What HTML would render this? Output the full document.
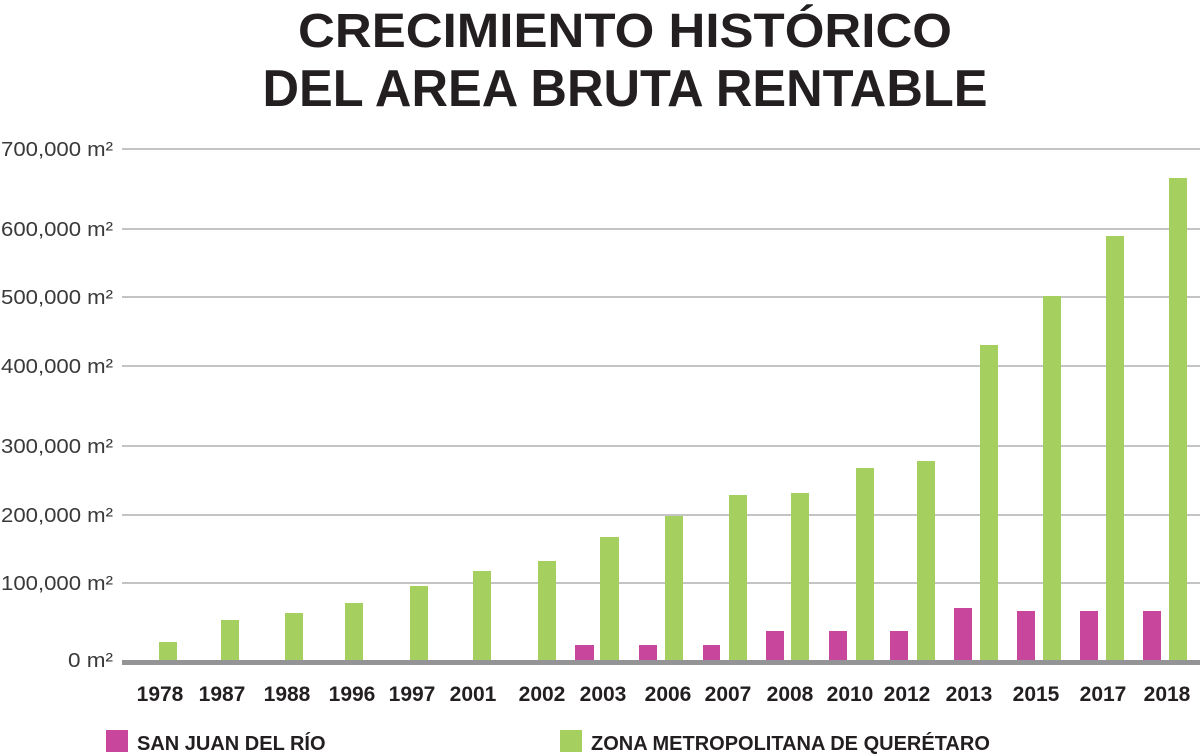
<!DOCTYPE html>
<html><head><meta charset="utf-8"><style>
html,body{margin:0;padding:0;background:#fff;}
svg{display:block;}
</style></head><body>
<svg width="1200" height="754" viewBox="0 0 1200 754" xmlns="http://www.w3.org/2000/svg" font-family="Liberation Sans, sans-serif">
<rect width="1200" height="754" fill="#fff"/>
<text x="625" y="47" font-size="48" font-weight="bold" fill="#231f20" text-anchor="middle" textLength="654" lengthAdjust="spacingAndGlyphs">CRECIMIENTO HISTÓRICO</text>
<text x="625" y="106" font-size="52" font-weight="bold" fill="#231f20" text-anchor="middle" textLength="725" lengthAdjust="spacingAndGlyphs">DEL AREA BRUTA RENTABLE</text>
<g stroke="#c4c4c6" stroke-width="2">
<line x1="122" y1="149" x2="1200" y2="149"/>
<line x1="122" y1="229" x2="1200" y2="229"/>
<line x1="122" y1="297" x2="1200" y2="297"/>
<line x1="122" y1="366" x2="1200" y2="366"/>
<line x1="122" y1="446" x2="1200" y2="446"/>
<line x1="122" y1="515" x2="1200" y2="515"/>
<line x1="122" y1="583" x2="1200" y2="583"/>
</g>
<g font-size="20" fill="#3a3a3a" text-anchor="end">
<text x="113" y="156" textLength="112" lengthAdjust="spacingAndGlyphs">700,000 m²</text>
<text x="113" y="236" textLength="112" lengthAdjust="spacingAndGlyphs">600,000 m²</text>
<text x="113" y="304" textLength="112" lengthAdjust="spacingAndGlyphs">500,000 m²</text>
<text x="113" y="373" textLength="112" lengthAdjust="spacingAndGlyphs">400,000 m²</text>
<text x="113" y="453" textLength="112" lengthAdjust="spacingAndGlyphs">300,000 m²</text>
<text x="113" y="522" textLength="112" lengthAdjust="spacingAndGlyphs">200,000 m²</text>
<text x="113" y="590" textLength="112" lengthAdjust="spacingAndGlyphs">100,000 m²</text>
<text x="113" y="667" textLength="45" lengthAdjust="spacingAndGlyphs">0 m²</text>
</g>
<g fill="#a5cf5f">
<rect x="159" y="642" width="18" height="20"/>
<rect x="221" y="620" width="18" height="42"/>
<rect x="285" y="613" width="18" height="49"/>
<rect x="345" y="603" width="18" height="59"/>
<rect x="410" y="586" width="18" height="76"/>
<rect x="473" y="571" width="18" height="91"/>
<rect x="538" y="561" width="18" height="101"/>
<rect x="600" y="537" width="19" height="125"/>
<rect x="665" y="516" width="18" height="146"/>
<rect x="729" y="495" width="18" height="167"/>
<rect x="791" y="493" width="18" height="169"/>
<rect x="856" y="468" width="18" height="194"/>
<rect x="917" y="461" width="18" height="201"/>
<rect x="980" y="345" width="18" height="317"/>
<rect x="1043" y="296" width="18" height="366"/>
<rect x="1106" y="236" width="18" height="426"/>
<rect x="1169" y="178" width="18" height="484"/>
</g>
<g fill="#c8469b">
<rect x="575" y="645" width="19" height="17"/>
<rect x="639" y="645" width="18" height="17"/>
<rect x="703" y="645" width="17" height="17"/>
<rect x="766" y="631" width="18" height="31"/>
<rect x="829" y="631" width="18" height="31"/>
<rect x="890" y="631" width="18" height="31"/>
<rect x="954" y="608" width="18" height="54"/>
<rect x="1017" y="611" width="18" height="51"/>
<rect x="1080" y="611" width="18" height="51"/>
<rect x="1143" y="611" width="18" height="51"/>
</g>
<rect x="122" y="660" width="1078" height="5" fill="#949497"/>
<g font-size="21" font-weight="bold" fill="#231f20" text-anchor="middle">
<text x="160" y="701">1978</text>
<text x="222" y="701">1987</text>
<text x="287" y="701">1988</text>
<text x="352" y="701">1996</text>
<text x="412" y="701">1997</text>
<text x="473" y="701">2001</text>
<text x="542" y="701">2002</text>
<text x="603" y="701">2003</text>
<text x="668" y="701">2006</text>
<text x="728" y="701">2007</text>
<text x="790" y="701">2008</text>
<text x="850" y="701">2010</text>
<text x="907" y="701">2012</text>
<text x="969" y="701">2013</text>
<text x="1036" y="701">2015</text>
<text x="1103" y="701">2017</text>
<text x="1167" y="701">2018</text>
</g>
<rect x="106" y="730" width="22" height="22" fill="#c8469b"/>
<text x="137" y="750" font-size="20" font-weight="bold" fill="#231f20">SAN JUAN DEL RÍO</text>
<rect x="560" y="730" width="22" height="22" fill="#a5cf5f"/>
<text x="591" y="750" font-size="20" font-weight="bold" fill="#231f20">ZONA METROPOLITANA DE QUERÉTARO</text>
</svg>
</body></html>
